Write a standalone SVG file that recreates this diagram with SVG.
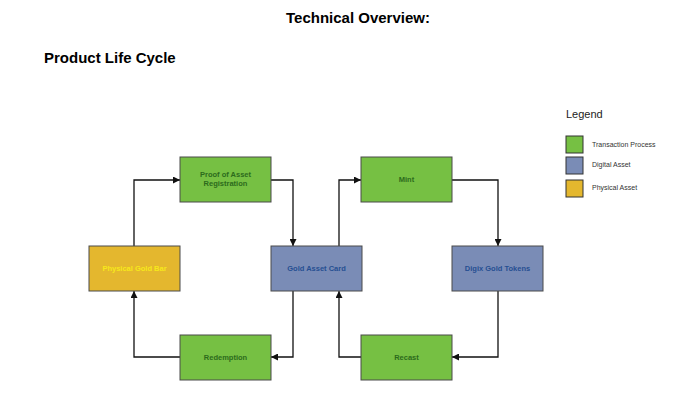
<svg xmlns="http://www.w3.org/2000/svg" width="700" height="400" viewBox="0 0 700 400">
<style>
text{font-family:"Liberation Sans",Arial,sans-serif}
.h{font-weight:bold;font-size:15px;fill:#000}
.n rect{stroke:#4a4a4a;stroke-width:1}
.g rect{fill:#76c043}
.b rect{fill:#7a8cb6}
.y rect{fill:#e4b72e}
.n text{font-size:7.5px;font-weight:bold;text-anchor:middle}
.g text{fill:#2c6b1c}
.b text{fill:#264f92}
.y text{fill:#f7e81a}
.c path{fill:none;stroke:#111;stroke-width:1.3}
.lg rect{stroke:#333;stroke-width:1}
.lg text{font-size:7px;fill:#333}
</style>
<defs>
<marker id="a" viewBox="0 0 10 10" refX="10" refY="5" markerWidth="7" markerHeight="7" markerUnits="userSpaceOnUse" orient="auto"><path d="M0,0L10,5L0,10z" fill="#111"/></marker>
</defs>
<rect width="700" height="400" fill="#fff"/>
<text class="h" x="358" y="23" text-anchor="middle">Technical Overview:</text>
<text class="h" x="44" y="63">Product Life Cycle</text>
<g class="c">
<path d="M134,246V180H180" marker-end="url(#a)"/>
<path d="M271,180H293V246" marker-end="url(#a)"/>
<path d="M293,291V357H271" marker-end="url(#a)"/>
<path d="M180,357H134V291" marker-end="url(#a)"/>
<path d="M339,246V180H361" marker-end="url(#a)"/>
<path d="M452,180H498V246" marker-end="url(#a)"/>
<path d="M498,291V357H452" marker-end="url(#a)"/>
<path d="M361,357H339V291" marker-end="url(#a)"/>
</g>
<g id="proof" class="n g"><rect x="180" y="157" width="91" height="45"/><text x="225.5" y="177">Proof of Asset</text><text x="225.5" y="186">Registration</text></g>
<g id="gold-bar" class="n y"><rect x="89" y="246" width="91" height="45"/><text x="134.5" y="271">Physical Gold Bar</text></g>
<g id="card" class="n b"><rect x="271" y="246" width="91" height="45"/><text x="316.5" y="271">Gold Asset Card</text></g>
<g id="redemption" class="n g"><rect x="180" y="335" width="91" height="45"/><text x="225.5" y="360">Redemption</text></g>
<g id="mint" class="n g"><rect x="361" y="157" width="91" height="45"/><text x="406.5" y="182">Mint</text></g>
<g id="tokens" class="n b"><rect x="452" y="246" width="91" height="45"/><text x="497.5" y="271">Digix Gold Tokens</text></g>
<g id="recast" class="n g"><rect x="361" y="335" width="91" height="45"/><text x="406.5" y="360">Recast</text></g>
<g id="legend" class="lg">
<text x="566" y="118" style="font-size:11px;fill:#222">Legend</text>
<rect x="566" y="136" width="17" height="17" fill="#76c043"/><text x="592" y="147">Transaction Process</text>
<rect x="566" y="157" width="17" height="17" fill="#7a8cb6"/><text x="592" y="167">Digital Asset</text>
<rect x="566" y="180" width="17" height="17" fill="#e4b72e"/><text x="592" y="190">Physical Asset</text>
</g>
</svg>
